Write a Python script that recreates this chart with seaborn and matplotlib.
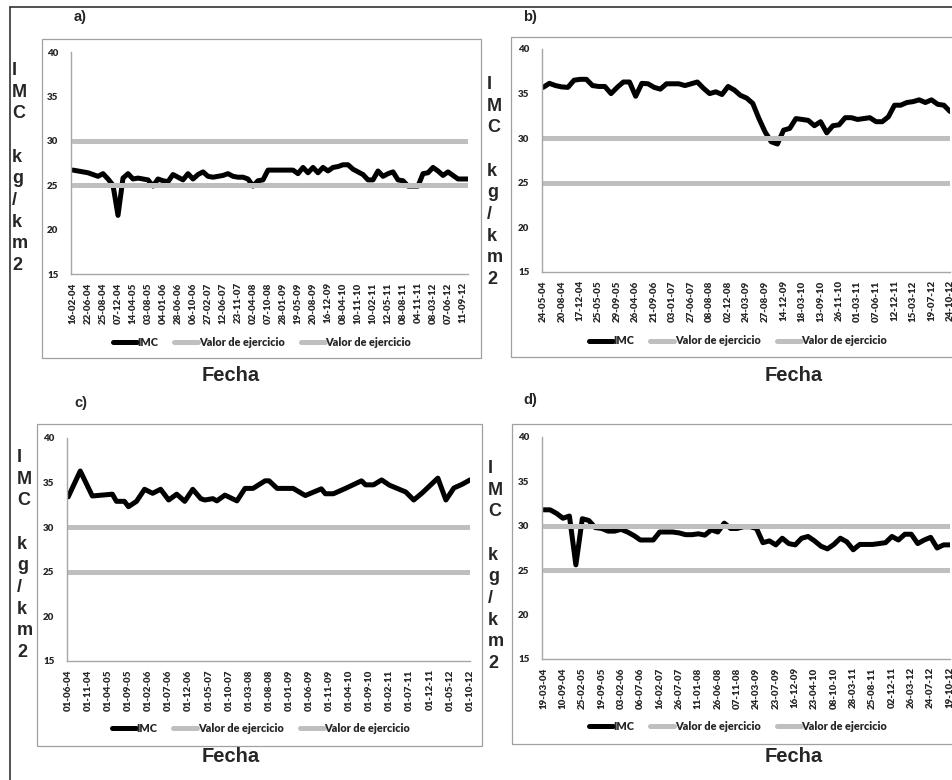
import numpy as np
import pandas as pd
import matplotlib
matplotlib.use("Agg")
import matplotlib.pyplot as plt
from matplotlib.lines import Line2D
from matplotlib.patches import Rectangle
import seaborn as sns

# ------------------------------------------------------------------ data
fechas_a = ["16-02-04", "22-06-04", "25-08-04", "07-12-04", "14-04-05", "03-08-05",
            "04-01-06", "28-06-06", "06-10-06", "27-02-07", "12-06-07", "23-11-07",
            "02-04-08", "07-10-08", "28-01-09", "19-05-09", "20-08-09", "16-12-09",
            "08-04-10", "10-11-10", "10-02-11", "12-05-11", "08-08-11", "04-11-11",
            "08-03-12", "07-06-12", "11-09-12"]
imc_a = [26.7, 26.6, 26.5, 26.4, 26.2, 26.0, 26.3, 25.7, 25.0, 21.6,
         25.8, 26.3, 25.7, 25.8, 25.7, 25.6, 24.9, 25.7, 25.5, 25.4,
         26.2, 25.9, 25.6, 26.3, 25.7, 26.2, 26.5, 26.0, 25.9, 26.0,
         26.1, 26.3, 26.0, 25.9, 25.9, 25.7, 24.9, 25.5, 25.6, 26.7,
         26.7, 26.7, 26.7, 26.7, 26.7, 26.3, 27.0, 26.4, 27.0, 26.4,
         27.0, 26.6, 27.0, 27.1, 27.3, 27.3, 26.8, 26.5, 26.2, 25.6,
         25.6, 26.6, 26.0, 26.3, 26.5, 25.6, 25.5, 24.9, 24.9, 24.9,
         26.3, 26.4, 27.0, 26.6, 26.1, 26.5, 26.1, 25.7, 25.7, 25.7]

fechas_b = ["24-05-04", "20-08-04", "17-12-04", "25-05-05", "29-09-05", "26-04-06",
            "21-09-06", "03-01-07", "27-06-07", "08-08-08", "02-12-08", "24-03-09",
            "27-08-09", "14-12-09", "18-03-10", "13-09-10", "26-11-10", "01-03-11",
            "07-06-11", "12-12-11", "15-03-12", "19-07-12", "24-10-12"]
imc_b = [35.7, 36.15, 35.9, 35.75, 35.7, 36.5, 36.6, 36.6, 35.9, 35.8,
         35.8, 35.0, 35.7, 36.3, 36.3, 34.7, 36.15, 36.1, 35.7, 35.5,
         36.1, 36.1, 36.1, 35.9, 36.1, 36.3, 35.6, 35.0, 35.2, 34.9,
         35.8, 35.4, 34.8, 34.5, 33.9, 32.2, 30.7, 29.6, 29.35, 30.9,
         31.1, 32.2, 32.1, 32.0, 31.4, 31.85, 30.6, 31.4, 31.5, 32.3,
         32.3, 32.1, 32.2, 32.3, 31.85, 31.85, 32.4, 33.7, 33.7, 34.0,
         34.1, 34.3, 34.0, 34.3, 33.8, 33.7, 33.0]

fechas_c = ["01-06-04", "01-11-04", "01-04-05", "01-09-05", "01-02-06", "01-07-06",
            "01-12-06", "01-05-07", "01-10-07", "01-03-08", "01-08-08", "01-01-09",
            "01-06-09", "01-11-09", "01-04-10", "01-09-10", "01-02-11", "01-07-11",
            "01-12-11", "01-05-12", "01-10-12"]
meses_c = [0, 3, 6, 11, 12, 14, 15, 17, 19, 21, 23, 25, 27, 29, 31, 33, 34, 36, 37, 39,
           42, 44, 46, 49, 50, 52, 56, 59, 63, 64, 66, 69, 73, 74, 76, 78, 80, 84, 86,
           88, 92, 94, 96, 98, 100]
imc_c = [33.4, 36.3, 33.5, 33.7, 32.9, 32.9, 32.3, 32.9, 34.25, 33.8,
         34.25, 33.05, 33.7, 32.9, 34.25, 33.2, 33.05, 33.2, 32.95, 33.6,
         32.95, 34.35, 34.35, 35.2, 35.2, 34.35, 34.35, 33.55, 34.3, 33.75,
         33.75, 34.35, 35.2, 34.75, 34.75, 35.3, 34.7, 33.95, 33.05, 33.8,
         35.5, 33.05, 34.4, 34.8, 35.3]

fechas_d = ["19-03-04", "10-09-04", "25-02-05", "19-09-05", "03-02-06", "06-07-06",
            "16-02-07", "26-07-07", "11-01-08", "26-06-08", "07-11-08", "24-03-09",
            "23-07-09", "16-12-09", "23-04-10", "08-10-10", "28-03-11", "25-08-11",
            "02-12-11", "26-03-12", "24-07-12", "19-10-12"]
imc_d = [31.8, 31.8, 31.4, 30.85, 31.1, 25.6, 30.8, 30.6, 29.8, 29.7,
         29.4, 29.4, 29.6, 29.3, 28.9, 28.4, 28.4, 28.4, 29.3, 29.3,
         29.3, 29.2, 29.0, 29.0, 29.1, 28.95, 29.55, 29.3, 30.3, 29.7,
         29.7, 29.9, 29.9, 29.7, 28.1, 28.3, 27.85, 28.6, 28.0, 27.85,
         28.6, 28.8, 28.3, 27.7, 27.4, 27.9, 28.6, 28.2, 27.3, 27.9,
         27.9, 27.9, 28.0, 28.1, 28.8, 28.4, 29.05, 29.05, 28.0, 28.4,
         28.7, 27.5, 27.85, 27.85]

valor_ejercicio_alto = 30
valor_ejercicio_bajo = 25
y_ticks = [15, 20, 25, 30, 35, 40]
letras = ["a)", "b)", "c)", "d)"]
serie_imc = "IMC"
serie_valor = "Valor de ejercicio"
eje_x = "Fecha"
eje_y = "I\nM\nC\n\nk\ng\n/\nk\nm\n2"

# ------------------------------------------------------------------ style
sns.set_theme(style="white")
plt.rcParams["font.family"] = ["Lato", "DejaVu Sans"]

W, H = 953, 780
fig = plt.figure(figsize=(W / 100, H / 100), dpi=100)
fig.patch.set_facecolor("white")

GRAY = "#BFBFBF"
AXGRAY = "#A6A6A6"
LW = 3.6


def fx(x):
    return x / W


def fy(y):
    return 1 - y / H


panels = [
    dict(x=list(range(len(imc_a))), y=imc_a, labels=fechas_a, step=3,
         ax=(71, 468, 52, 274), xlim=(-0.4, len(imc_a) - 1),
         frame=(42, 39, 481, 358), letter=(74, 17), ylab=(12, 168),
         fecha=(231, 375), leg=(262, 342)),
    dict(x=list(range(len(imc_b))), y=imc_b, labels=fechas_b, step=3,
         ax=(542, 950, 49, 272), xlim=(-0.2, len(imc_b) - 1),
         frame=(511, 37, 960, 357), letter=(523, 17), ylab=(487, 182),
         fecha=(794, 375), leg=(738, 341)),
    dict(x=meses_c, y=imc_c, labels=fechas_c, step=5,
         ax=(67, 470, 438, 661), xlim=(-0.3, 100),
         frame=(37, 424, 482, 746), letter=(74, 403), ylab=(17, 555),
         fecha=(231, 757), leg=(261, 728)),
    dict(x=list(range(len(imc_d))), y=imc_d, labels=fechas_d, step=3,
         ax=(542, 950, 437, 659), xlim=(-0.25, len(imc_d) - 1),
         frame=(512, 424, 960, 744), letter=(523, 400), ylab=(488, 566),
         fecha=(794, 757), leg=(738, 726)),
]

tick_font = dict(family=["Lato", "DejaVu Sans"], weight="heavy", size=7)

for p, letra in zip(panels, letras):
    x0, x1, y0, y1 = p["ax"]
    ax = fig.add_axes([fx(x0), fy(y1), (x1 - x0) / W, (y1 - y0) / H])
    ax.set_facecolor("none")

    df = pd.DataFrame({"pos": p["x"], "IMC": p["y"]})
    n = len(df)
    sns.lineplot(data=df, x="pos", y="IMC", ax=ax, color="black", lw=LW,
                 solid_joinstyle="round", solid_capstyle="round", legend=False)
    df["alto"] = [valor_ejercicio_alto] * n
    df["bajo"] = [valor_ejercicio_bajo] * n
    sns.lineplot(data=df, x="pos", y="alto", ax=ax, color=GRAY, lw=LW,
                 solid_capstyle="round", legend=False)
    sns.lineplot(data=df, x="pos", y="bajo", ax=ax, color=GRAY, lw=LW,
                 solid_capstyle="round", legend=False)

    ax.set_xlim(*p["xlim"])
    ax.set_ylim(15, 40)
    ax.set_yticks(y_ticks)
    ax.set_yticklabels([str(v) for v in y_ticks], fontdict=tick_font)
    ticks = np.arange(len(p["labels"])) * p["step"]
    ax.set_xticks(ticks)
    ax.set_xticklabels(p["labels"], rotation=90, fontdict=tick_font)
    ax.tick_params(axis="both", length=0)
    ax.tick_params(axis="y", pad=9)
    ax.tick_params(axis="x", pad=6)
    ax.set_xlabel("")
    ax.set_ylabel("")
    for s in ["top", "right"]:
        ax.spines[s].set_visible(False)
    for s in ["left", "bottom"]:
        ax.spines[s].set_color(AXGRAY)
        ax.spines[s].set_linewidth(1.0)
    ax.grid(False)

    handles = [Line2D([], [], color="black", lw=LW),
               Line2D([], [], color=GRAY, lw=LW),
               Line2D([], [], color=GRAY, lw=LW)]
    fig.legend(handles, [serie_imc, serie_valor, serie_valor],
               loc="center", bbox_to_anchor=(fx(p["leg"][0]), fy(p["leg"][1])),
               ncol=3, frameon=False, handlelength=2.2, handletextpad=0.05,
               columnspacing=1.5, prop=dict(family=["Lato", "DejaVu Sans"],
                                            weight="heavy", size=7.8))

    # chart frame
    fl, ft, fr, fb = p["frame"]
    fig.add_artist(Rectangle((fx(fl), fy(fb)), (fr - fl) / W, (fb - ft) / H,
                             transform=fig.transFigure, fill=False,
                             edgecolor="#A0A0A0", lw=0.9))

    fig.text(fx(p["letter"][0]), fy(p["letter"][1]), letra, ha="left", va="center",
             family=["Liberation Sans", "DejaVu Sans"], weight="bold", fontsize=10.5)
    fig.text(fx(p["ylab"][0]), fy(p["ylab"][1]), eje_y, ha="left", va="center",
             multialignment="left", family=["Liberation Sans", "DejaVu Sans"],
             weight="bold", fontsize=13, linespacing=1.36)
    fig.text(fx(p["fecha"][0]), fy(p["fecha"][1]), eje_x, ha="center", va="center",
             family=["Liberation Sans", "DejaVu Sans"], weight="bold", fontsize=14.5)

# outer border (top and left)
fig.add_artist(Line2D([fx(10), fx(953)], [fy(7), fy(7)], transform=fig.transFigure,
                      color="#333333", lw=1.2))
fig.add_artist(Line2D([fx(10), fx(10)], [fy(7), fy(780)], transform=fig.transFigure,
                      color="#333333", lw=1.2))

fig.savefig("out.png", dpi=100)
